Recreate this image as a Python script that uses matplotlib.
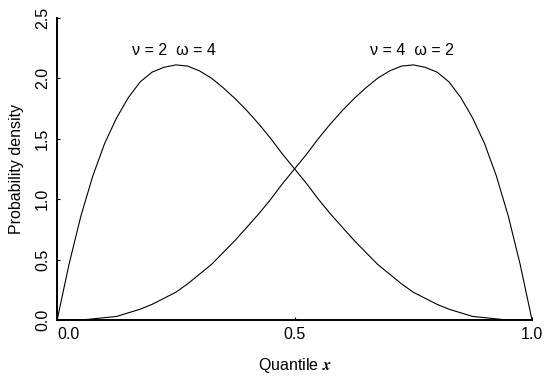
import matplotlib
matplotlib.use("Agg")
import matplotlib.pyplot as plt

plt.rcParams['font.family'] = ['Liberation Sans', 'DejaVu Sans']

# quantile grid and beta densities (nu=2, omega=4) and (nu=4, omega=2)
quantile = [i * 0.025 for i in range(41)]
density_2_4 = [0.00, 0.46, 0.86, 1.19, 1.46, 1.67, 1.84, 1.97, 2.05, 2.09,
               2.11, 2.10, 2.06, 2.00, 1.92, 1.83, 1.73, 1.62, 1.50, 1.37,
               1.25, 1.13, 1.00, 0.88, 0.77, 0.66, 0.56, 0.46, 0.38, 0.30,
               0.23, 0.18, 0.13, 0.09, 0.06, 0.03, 0.02, 0.01, 0.00, 0.00,
               0.00]
density_4_2 = [0.00, 0.00, 0.00, 0.01, 0.02, 0.03, 0.06, 0.09, 0.13, 0.18,
               0.23, 0.30, 0.38, 0.46, 0.56, 0.66, 0.77, 0.88, 1.00, 1.13,
               1.25, 1.37, 1.50, 1.62, 1.73, 1.83, 1.92, 2.00, 2.06, 2.10,
               2.11, 2.09, 2.05, 1.97, 1.84, 1.67, 1.46, 1.19, 0.86, 0.46,
               0.00]
curve_labels = ["\u03bd = 2  \u03c9 = 4", "\u03bd = 4  \u03c9 = 2"]
label_pos = [(0.245, 2.23), (0.747, 2.23)]
xticks = [0.0, 0.5, 1.0]
yticks = [0.0, 0.5, 1.0, 1.5, 2.0, 2.5]

fig = plt.figure(figsize=(5.44, 3.77), dpi=100)
ax = fig.add_axes([0.105, 0.151, 0.873, 0.802])

ax.plot(quantile, density_2_4, color='black', lw=0.8, solid_joinstyle='round')
ax.plot(quantile, density_4_2, color='black', lw=0.8, solid_joinstyle='round')

for txt, (x, y) in zip(curve_labels, label_pos):
    ax.text(x, y, txt, ha='center', va='center', fontsize=11.5)

ax.set_xlim(0, 1)
ax.set_ylim(0, 2.5)
ax.set_xticks(xticks)
ax.set_xticklabels([f"{v:.1f}" for v in xticks])
ax.get_xticklabels()[0].set_horizontalalignment('left')
ax.set_yticks(yticks)
ax.set_yticklabels([f"{v:.1f}" for v in yticks], rotation=90, va='center')
ax.tick_params(direction='in', length=2, width=0.8, labelsize=11.5, pad=5)

for s in ['top', 'right']:
    ax.spines[s].set_visible(False)
for s in ['left', 'bottom']:
    ax.spines[s].set_linewidth(1.4)

ax.set_ylabel("Probability density", fontsize=11.5, labelpad=8)
ax.set_xlabel(r"Quantile $\mathbfit{x}$", fontsize=11.5, math_fontfamily='stix',
              labelpad=10)

fig.savefig("out.png", dpi=100)
